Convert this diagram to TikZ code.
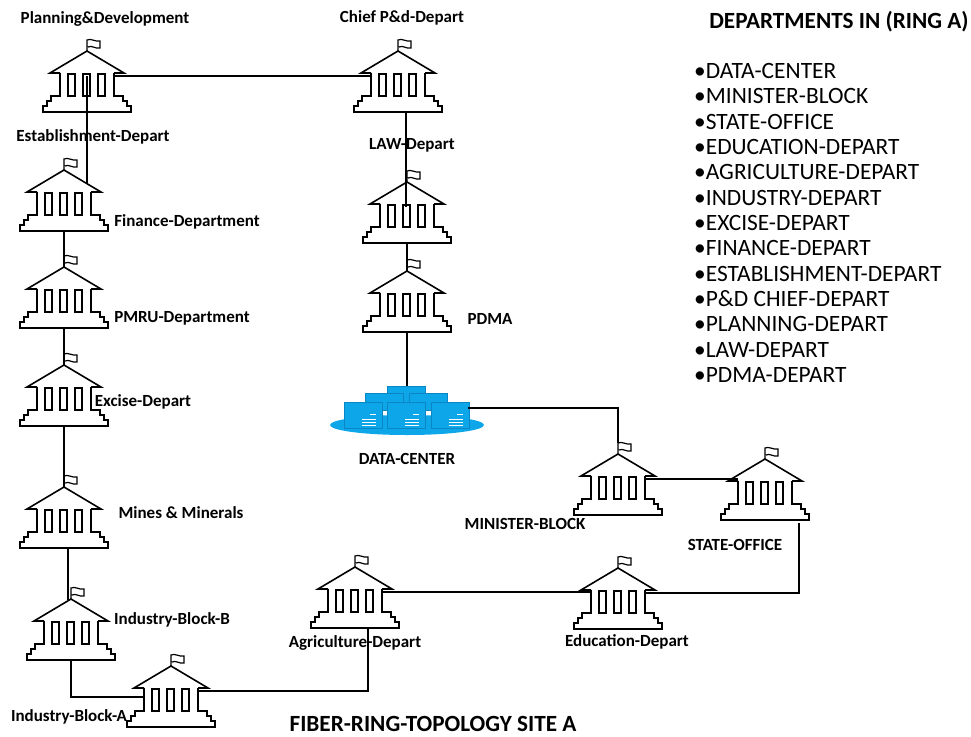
\documentclass[tikz,border=0pt]{standalone}
\usepackage{fontspec}
\setmainfont{Carlito}
\definecolor{dcblue}{HTML}{0CA6E9}
\definecolor{dcedge}{HTML}{0A86C4}
\tikzset{
  wire/.style={line width=1.6pt},
  tag/.style={yshift=-1.5pt,font=\bfseries\fontsize{17}{19}\selectfont},
  head/.style={font=\bfseries\fontsize{23.2}{25}\selectfont},
  dept/.style={anchor=west,inner sep=0pt,font=\fontsize{23.4}{25}\selectfont},
  server/.style={fill=dcblue,draw=dcedge,line width=.5pt},
  bldg/.pic={
    \draw[line width=1.6pt] (-27,-3) -- (-37,-3) -- (0,-25) -- (37,-3) -- (27,-3);
    \draw[line width=1.6pt] (-27,-3) -- (-27,20) -- (-36,20) -- (-36,25) -- (-40,25) -- (-40,30) -- (-44,30) -- (-44,36)
      -- (44,36) -- (44,30) -- (40,30) -- (40,25) -- (36,25) -- (36,20) -- (27,20) -- (27,-3);
    \draw[line width=1.6pt] (-19,-2) rectangle (-12,20);
    \draw[line width=1.6pt] (-4,-2) rectangle (3,20);
    \draw[line width=1.6pt] (11,-2) rectangle (18,20);
    \draw[line width=1.2pt] (0,-25) -- (0,-36) .. controls (4,-38) and (8,-34) .. (13,-35) -- (13,-28) .. controls (8,-27) and (5,-31) .. (1,-29);
    \coordinate (-c) at (0,0);
    \coordinate (-l) at (-27,0);
    \coordinate (-r) at (27,0);
    \coordinate (-t) at (0,-36);
    \coordinate (-a) at (0,-25);
    \coordinate (-b) at (0,36);
  },
  srv/.pic={
    \draw[server] (-19,-13) rectangle (19,13);
    \draw[white,line width=.6pt] (-1,4) -- (13,4) (-1,7) -- (13,7) (-1,10) -- (13,10);
    \draw[white,line width=.8pt] (7,-1) -- (13,-1);
  },
}
\begin{document}
\begin{tikzpicture}[x=1pt,y=-1pt]
\useasboundingbox (0,0) rectangle (971,736);

% buildings
\pic (plan) at (87,76) {bldg};
\pic (chief) at (398,76) {bldg};
\pic (fin) at (64,195) {bldg};
\pic (pmru) at (64,292) {bldg};
\pic (exc) at (64,390) {bldg};
\pic (mines) at (64,512) {bldg};
\pic (indb) at (71,624) {bldg};
\pic (inda) at (171,691) {bldg};
\pic (agri) at (355,592) {bldg};
\pic (edu) at (618,593) {bldg};
\pic (mini) at (618,479) {bldg};
\pic (state) at (765,484) {bldg};
\pic (law) at (407,207) {bldg};
\pic (pdma) at (407,296) {bldg};

% data center
\fill[dcblue] (407,425) ellipse [x radius=77, y radius=10];
\draw[server] (387,386) rectangle (425,402);
\draw[server] (365,393) rectangle (403,410);
\draw[server] (409,393) rectangle (447,410);
\pic at (363,415) {srv};
\pic at (406,415) {srv};
\pic at (450,415) {srv};
\coordinate (dctop) at (407,386);
\coordinate (dcright) at (468,408);

% links
\coordinate (finroof) at (87,183);
\coordinate (chiefdrop) at (406,112);
\coordinate (minesdrop) at (68,548);
\coordinate (indbtop) at (68,600);
\coordinate (indajoin) at (144,697);
\coordinate (agridrop) at (368,628);
\coordinate (statedrop) at (799,523);
\draw[wire] (plan-r) -- (chief-l);
\draw[wire] (plan-c) -- (finroof);
\draw[wire] (chiefdrop) -- (chiefdrop |- law-c);
\draw[wire] (law-b) -- (pdma-a);
\draw[wire] (fin-b) -- (pmru-a);
\draw[wire] (pmru-b) -- (exc-a);
\draw[wire] (exc-b) -- (mines-a);
\draw[wire] (minesdrop) -- (indbtop);
\draw[wire] (indb-b) |- (indajoin);
\draw[wire] (inda-r) -| (agridrop);
\draw[wire] (agri-r) -- (agri-r -| edu-l);
\draw[wire] (edu-r) -| (statedrop);
\draw[wire] (mini-r) -- (mini-r -| state-l);
\draw[wire] (mini-t) |- (dcright);
\draw[wire] (pdma-b) -- (dctop);

% labels
\node[tag] (tplan) at (105,17) {Planning\&Development};
\node[tag] (tchief) at (402,16) {Chief P\&d-Depart};
\node[tag] (test) at (93,135) {Establishment-Depart};
\node[tag] (tlaw) at (412,144) {LAW-Depart};
\node[tag] (tfin) at (187,220) {Finance-Department};
\node[tag] (tpmru) at (182,317) {PMRU-Department};
\node[tag] (texc) at (143,400) {Excise-Depart};
\node[tag] (tpdma) at (490,317) {PDMA};
\node[tag] (tmines) at (181,511) {Mines \& Minerals};
\node[tag] (tdc) at (407,457) {DATA-CENTER};
\node[tag] (tmini) at (525,522) {MINISTER-BLOCK};
\node[tag] (tstate) at (735,543) {STATE-OFFICE};
\node[tag] (tindb) at (172,618) {Industry-Block-B};
\node[tag] (tagri) at (355,641) {Agriculture-Depart};
\node[tag] (tedu) at (627,640) {Education-Depart};
\node[tag] (tinda) at (69,715) {Industry-Block-A};
\node[head] (title) at (433,724) {FIBER-RING-TOPOLOGY SITE A};
\node[head] (lhead) at (839,22) {DEPARTMENTS IN (RING A)};

% list
\foreach \d [count=\i from 0] in {DATA-CENTER,MINISTER-BLOCK,STATE-OFFICE,EDUCATION-DEPART,AGRICULTURE-DEPART,INDUSTRY-DEPART,EXCISE-DEPART,FINANCE-DEPART,ESTABLISHMENT-DEPART,P\&D CHIEF-DEPART,PLANNING-DEPART,LAW-DEPART,PDMA-DEPART}
  \node[dept] (item\i) at (694,71+25.33*\i) {\textbullet\d};
\end{tikzpicture}
\end{document}
